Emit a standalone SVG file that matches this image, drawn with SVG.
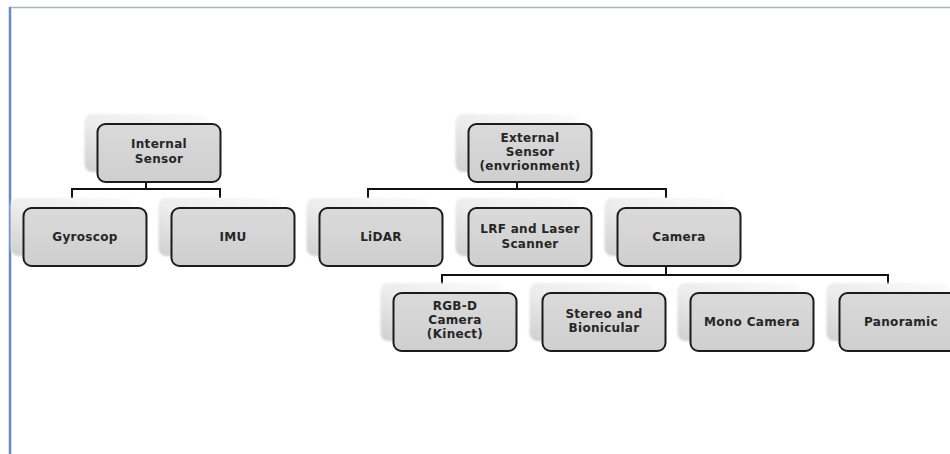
<svg xmlns="http://www.w3.org/2000/svg" width="950" height="454" viewBox="0 0 950 454">
  <defs>
    <linearGradient id="shadowGrad" x1="0" y1="1" x2="1" y2="0">
      <stop offset="0" stop-color="#cfcfcf"/>
      <stop offset="0.45" stop-color="#ececec"/>
      <stop offset="1" stop-color="#fbfbfb"/>
    </linearGradient>
    <linearGradient id="frontGrad" x1="0" y1="0" x2="0" y2="1">
      <stop offset="0" stop-color="#dadada"/>
      <stop offset="1" stop-color="#cfcfcf"/>
    </linearGradient>
    <filter id="soft" x="-10%" y="-10%" width="120%" height="120%">
      <feGaussianBlur stdDeviation="1.2"/>
    </filter>
  </defs>
  <style>
    .shadow { fill: url(#shadowGrad); filter: url(#soft); }
    .front { fill: url(#frontGrad); stroke: #1c1c1c; stroke-width: 2; }
    .label { font-family: "DejaVu Sans", "Open Sans", sans-serif; font-weight: bold; font-size: 12px; letter-spacing: 0.3px; fill: #262626; text-anchor: middle; }
    .conn { fill: none; stroke: #111; stroke-width: 2; }
  </style>
  <rect x="0" y="0" width="950" height="454" fill="#ffffff"/>
  <line x1="9" y1="7.5" x2="950" y2="7.5" stroke="#a9b7c2" stroke-width="1.5"/>
  <line x1="10" y1="7" x2="10" y2="454" stroke="#6a88c6" stroke-width="2.5"/>

  <g id="connectors">
    <path class="conn" d="M146 182 V189 M72 198 V189 H220 V198"/>
    <path class="conn" d="M517 182 V189 M368 198 V189 H666 V198"/>
    <path class="conn" d="M666 266 V275 M442 284 V275 H888 V284"/>
  </g>

  <g id="internal-sensor">
    <rect class="shadow" x="84.5" y="114" width="123" height="58" rx="8"/>
    <rect class="front" x="97.5" y="124" width="123" height="58" rx="8"/>
    <text class="label" x="159" y="148">Internal</text>
    <text class="label" x="159" y="163">Sensor</text>
  </g>

  <g id="external-sensor">
    <rect class="shadow" x="455.5" y="114" width="123" height="58" rx="8"/>
    <rect class="front" x="468.5" y="124" width="123" height="58" rx="8"/>
    <text class="label" x="530" y="142">External</text>
    <text class="label" x="530" y="156">Sensor</text>
    <text class="label" x="530" y="170">(envrionment)</text>
  </g>

  <g id="gyroscop">
    <rect class="shadow" x="10.5" y="198" width="123" height="58" rx="8"/>
    <rect class="front" x="23.5" y="208" width="123" height="58" rx="8"/>
    <text class="label" x="85" y="241">Gyroscop</text>
  </g>

  <g id="imu">
    <rect class="shadow" x="158.5" y="198" width="123" height="58" rx="8"/>
    <rect class="front" x="171.5" y="208" width="123" height="58" rx="8"/>
    <text class="label" x="233" y="241">IMU</text>
  </g>

  <g id="lidar">
    <rect class="shadow" x="306.5" y="198" width="123" height="58" rx="8"/>
    <rect class="front" x="319.5" y="208" width="123" height="58" rx="8"/>
    <text class="label" x="381" y="241">LiDAR</text>
  </g>

  <g id="lrf-laser-scanner">
    <rect class="shadow" x="455.5" y="198" width="123" height="58" rx="8"/>
    <rect class="front" x="468.5" y="208" width="123" height="58" rx="8"/>
    <text class="label" x="530" y="233">LRF and Laser</text>
    <text class="label" x="530" y="248">Scanner</text>
  </g>

  <g id="camera">
    <rect class="shadow" x="604.5" y="198" width="123" height="58" rx="8"/>
    <rect class="front" x="617.5" y="208" width="123" height="58" rx="8"/>
    <text class="label" x="679" y="241">Camera</text>
  </g>

  <g id="rgbd-camera">
    <rect class="shadow" x="380.5" y="283" width="123" height="58" rx="8"/>
    <rect class="front" x="393.5" y="293" width="123" height="58" rx="8"/>
    <text class="label" x="455" y="310">RGB-D</text>
    <text class="label" x="455" y="324">Camera</text>
    <text class="label" x="455" y="338">(Kinect)</text>
  </g>

  <g id="stereo-bionicular">
    <rect class="shadow" x="529.5" y="283" width="123" height="58" rx="8"/>
    <rect class="front" x="542.5" y="293" width="123" height="58" rx="8"/>
    <text class="label" x="604" y="318">Stereo and</text>
    <text class="label" x="604" y="332">Bionicular</text>
  </g>

  <g id="mono-camera">
    <rect class="shadow" x="677.5" y="283" width="123" height="58" rx="8"/>
    <rect class="front" x="690.5" y="293" width="123" height="58" rx="8"/>
    <text class="label" x="752" y="326">Mono Camera</text>
  </g>

  <g id="panoramic">
    <rect class="shadow" x="826.5" y="283" width="123" height="58" rx="8"/>
    <rect class="front" x="839.5" y="293" width="123" height="58" rx="8"/>
    <text class="label" x="901" y="326">Panoramic</text>
  </g>
</svg>
